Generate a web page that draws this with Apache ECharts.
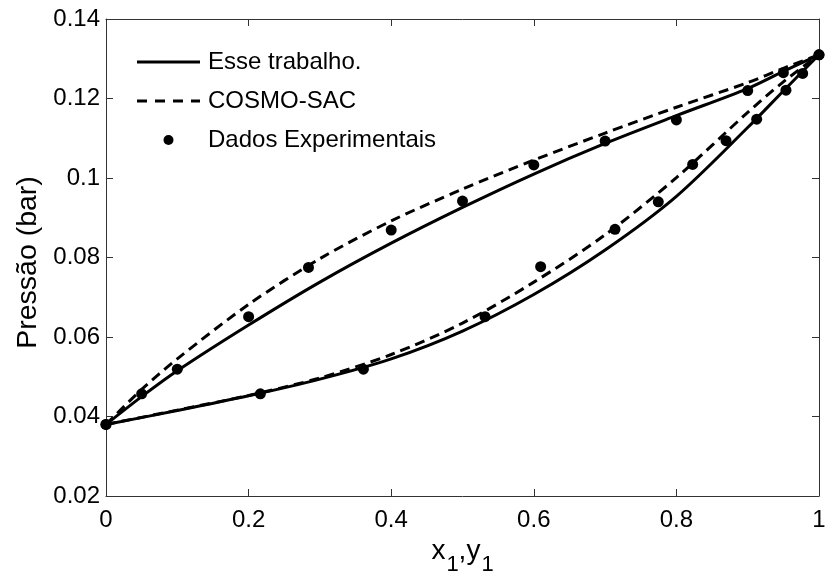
<!DOCTYPE html>
<html>
<head>
<meta charset="utf-8">
<script src="https://cdn.jsdelivr.net/npm/echarts@6/dist/echarts.min.js"></script>
<style>
html,body{margin:0;padding:0;background:#fff;}
#chart{width:827px;height:575px;}
</style>
</head>
<body>
<div id="chart"></div>
<script>
// Experimental data: bubble (P vs x1) and dew (P vs y1)
var expX1 = [0, 0.05, 0.1, 0.2, 0.284, 0.4, 0.5, 0.6, 0.7, 0.8, 0.9, 0.95, 1.0];
var expPx = [0.038, 0.0457, 0.0519, 0.0651, 0.0775, 0.0869, 0.0942, 0.1033, 0.1093, 0.1146, 0.1220, 0.1265, 0.1310];
var expY1 = [0, 0.2165, 0.361, 0.5316, 0.6096, 0.7139, 0.7746, 0.8228, 0.8696, 0.9126, 0.9537, 0.9771, 1.0];
var expPy = [0.038, 0.0457, 0.0519, 0.0651, 0.0777, 0.0871, 0.0940, 0.1034, 0.1094, 0.1148, 0.1221, 0.1263, 0.1310];

// Model curves, bubble line (P vs x1)
var bubX = [0, 0.05, 0.1, 0.2, 0.3, 0.4, 0.5, 0.6, 0.7, 0.8, 0.9, 0.95, 1.0];
var bubThis = [0.038, 0.0450, 0.0515, 0.0630, 0.0738, 0.0836, 0.0926, 0.1010, 0.1087, 0.1157, 0.1225, 0.1268, 0.131];
var bubCosmo = [0.038, 0.0468, 0.0545, 0.0682, 0.0797, 0.0892, 0.0972, 0.1045, 0.1113, 0.1178, 0.1240, 0.1276, 0.131];

// Model curves, dew line (P vs y1)
var dewY = [0, 0.1, 0.2, 0.3, 0.4, 0.5, 0.6, 0.7, 0.8, 0.9, 0.95, 1.0];
var dewThis = [0.038, 0.0415, 0.0452, 0.0494, 0.0545, 0.0615, 0.0707, 0.0819, 0.0954, 0.1127, 0.1219, 0.131];
var dewCosmo = [0.038, 0.0416, 0.0453, 0.0497, 0.0556, 0.0635, 0.0738, 0.0857, 0.1001, 0.1165, 0.1242, 0.131];

var xTickLabels = ['0', '0.2', '0.4', '0.6', '0.8', '1'];
var yTickLabels = ['0.02', '0.04', '0.06', '0.08', '0.1', '0.12', '0.14'];

var seriesNames = ['Esse trabalho.', 'COSMO-SAC', 'Dados Experimentais'];

function pairs(xs, ys) { return xs.map(function (x, i) { return [x, ys[i]]; }); }

var FONT = "'Liberation Sans', Arial, Helvetica, sans-serif";
var AX = '#333333';

var chart = echarts.init(document.getElementById('chart'), null, {renderer: 'canvas'});

function lineSeries(name, data, dashed) {
  return {
    name: name, type: 'line', data: data, symbol: 'none', showSymbol: false, smooth: 0.3,
    lineStyle: {color: '#000', width: 3, type: dashed ? [10, 6] : 'solid'},
    itemStyle: {color: '#000'}, z: 2, animation: false
  };
}

var solidIcon = 'path://M0,0 L63,0 L63,3 L0,3 Z';
var dashIcon = 'path://M0,0 L10,0 L10,3 L0,3 Z M18,0 L28,0 L28,3 L18,3 Z M36,0 L46,0 L46,3 L36,3 Z M54,0 L63,0 L63,3 L54,3 Z';

var option = {
  animation: false,
  backgroundColor: '#fff',
  textStyle: {fontFamily: FONT},
  grid: {left: 106, right: 8, top: 19, bottom: 79, containLabel: false, outerBoundsMode: 'none'},
  legend: {
    left: 137, top: 49, orient: 'vertical', padding: 0,
    itemWidth: 63, itemHeight: 10, itemGap: 13,
    textStyle: {fontSize: 24, color: '#000', fontFamily: FONT, lineHeight: 26, padding: [0, 0, 0, 3]},
    data: [
      {name: seriesNames[0], icon: solidIcon, itemStyle: {color: '#000'}},
      {name: seriesNames[1], icon: dashIcon, itemStyle: {color: '#000'}},
      {name: seriesNames[2], icon: 'circle', itemStyle: {color: '#000', opacity: 1}}
    ]
  },
  xAxis: [{
    type: 'value', min: 0, max: 1, interval: 0.2, position: 'bottom',
    axisLine: {show: true, onZero: false, lineStyle: {color: AX, width: 1}},
    axisTick: {show: true, inside: true, length: 7, lineStyle: {color: AX}},
    splitLine: {show: false},
    axisLabel: {fontSize: 24, color: '#000', margin: 12, fontFamily: FONT,
      formatter: function (v) { return xTickLabels[Math.round(v / 0.2)]; }},
    name: '{a|x}{s|1}{a|,y}{s|1}', nameLocation: 'middle', nameGap: 36,
    nameTextStyle: {
      color: '#000', fontFamily: FONT,
      rich: {
        a: {fontSize: 28, color: '#000', fontFamily: FONT, lineHeight: 28, verticalAlign: 'top'},
        s: {fontSize: 22, color: '#000', fontFamily: FONT, lineHeight: 22, verticalAlign: 'top', padding: [17, 0, 0, 1]}
      }
    }
  }, {
    type: 'value', min: 0, max: 1, interval: 0.2, position: 'top',
    axisLine: {show: true, onZero: false, lineStyle: {color: AX, width: 1}},
    axisTick: {show: true, inside: true, length: 7, lineStyle: {color: AX}},
    splitLine: {show: false}, axisLabel: {show: false}
  }],
  yAxis: [{
    type: 'value', min: 0.02, max: 0.14, interval: 0.02, position: 'left',
    axisLine: {show: true, onZero: false, lineStyle: {color: AX, width: 1}},
    axisTick: {show: true, inside: true, length: 7, lineStyle: {color: AX}},
    splitLine: {show: false},
    axisLabel: {fontSize: 24, color: '#000', margin: 6, fontFamily: FONT,
      formatter: function (v) { return yTickLabels[Math.round((v - 0.02) / 0.02)]; }},
    name: 'Pressão (bar)', nameLocation: 'middle', nameGap: 63,
    nameTextStyle: {fontSize: 28.5, color: '#000', fontFamily: FONT, padding: [0, 10, 0, 0]}
  }, {
    type: 'value', min: 0.02, max: 0.14, interval: 0.02, position: 'right',
    axisLine: {show: true, onZero: false, lineStyle: {color: AX, width: 1}},
    axisTick: {show: true, inside: true, length: 7, lineStyle: {color: AX}},
    splitLine: {show: false}, axisLabel: {show: false}
  }],
  series: [
    lineSeries(seriesNames[0], pairs(bubX, bubThis), false),
    lineSeries(seriesNames[0], pairs(dewY, dewThis), false),
    lineSeries(seriesNames[1], pairs(bubX, bubCosmo), true),
    lineSeries(seriesNames[1], pairs(dewY, dewCosmo), true),
    {
      name: seriesNames[2], type: 'scatter', symbol: 'circle', symbolSize: 11,
      itemStyle: {color: '#000', opacity: 1}, z: 3,
      data: pairs(expX1, expPx).concat(pairs(expY1, expPy))
    }
  ]
};
chart.setOption(option);
</script>
</body>
</html>
